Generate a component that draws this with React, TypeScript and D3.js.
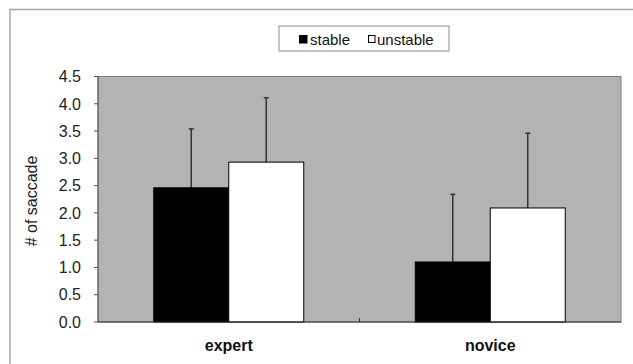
import React from "react";
import * as d3 from "d3";

// values
const groups = ["expert", "novice"];
const seriesNames = ["stable", "unstable"];
const stableMeans = [2.46, 1.1];
const unstableMeans = [2.93, 2.09];
const stableErr = [1.08, 1.24];
const unstableErr = [1.18, 1.37];
const yTicks = [0, 0.5, 1, 1.5, 2, 2.5, 3, 3.5, 4, 4.5];

const W = 633;
const H = 364;
const plot = { left: 98, right: 621, top: 76.5, bottom: 322 };
const font = "Arial, 'Liberation Sans', sans-serif";

const App = () => {
  const x = d3
    .scaleBand()
    .domain(groups)
    .range([plot.left, plot.right])
    .paddingInner(0.4264)
    .paddingOuter(0.2132);
  const xs = d3.scaleBand().domain(seriesNames).range([0, x.bandwidth()]);
  const y = d3.scaleLinear().domain([0, 4.5]).range([plot.bottom, plot.top]);
  const fmt = d3.format(".1f");

  const rows = groups.flatMap((g, i) => [
    { g, s: "stable", v: stableMeans[i], e: stableErr[i], fill: "#000" },
    { g, s: "unstable", v: unstableMeans[i], e: unstableErr[i], fill: "#fff" },
  ]);

  // boundary between the two categories
  const mid = (x(groups[0]) + x.bandwidth() + x(groups[1])) / 2;

  return (
    <svg
      width={W}
      height={H}
      style={{ position: "absolute", left: 0, top: 0, background: "#fff" }}
      fontFamily={font}
    >
      <rect x={10} y={9.5} width={700} height={500} fill="#fff" stroke="#a6a6a6" strokeWidth={1.5} />

      <rect
        x={plot.left}
        y={plot.top}
        width={plot.right - plot.left}
        height={plot.bottom - plot.top}
        fill="#b3b3b3"
        stroke="#7f7f7f"
        strokeWidth={1}
      />

      {rows.map((d) => {
        const bx = x(d.g) + xs(d.s);
        const cx = bx + xs.bandwidth() / 2;
        return (
          <g key={d.g + d.s}>
            <line x1={cx} x2={cx} y1={y(d.v)} y2={y(d.v + d.e)} stroke="#333" strokeWidth={1.5} />
            <line x1={cx - 2.5} x2={cx + 2.5} y1={y(d.v + d.e)} y2={y(d.v + d.e)} stroke="#333" strokeWidth={1.5} />
            <rect
              x={bx}
              y={y(d.v)}
              width={xs.bandwidth()}
              height={y(0) - y(d.v)}
              fill={d.fill}
              stroke="#000"
              strokeWidth={1}
            />
          </g>
        );
      })}

      {/* axes */}
      <line x1={plot.left} x2={plot.left} y1={plot.top} y2={plot.bottom} stroke="#555" />
      <line x1={plot.left} x2={plot.right} y1={y(0)} y2={y(0)} stroke="#333" strokeWidth={1.2} />
      <line x1={mid} x2={mid} y1={y(0)} y2={y(0) - 4} stroke="#333" />

      {yTicks.map((t) => (
        <g key={t}>
          <line x1={plot.left - 4} x2={plot.left} y1={y(t)} y2={y(t)} stroke="#555" />
          <text x={81} y={y(t)} dy="0.36em" textAnchor="end" fontSize={16} fill="#222">
            {fmt(t)}
          </text>
        </g>
      ))}

      {groups.map((g) => (
        <text
          key={g}
          x={x(g) + x.bandwidth() / 2}
          y={350.5}
          textAnchor="middle"
          fontSize={16}
          fontWeight="bold"
          fill="#111"
        >
          {g}
        </text>
      ))}

      <text
        transform="translate(37,201) rotate(-90)"
        textAnchor="middle"
        fontSize={16}
        fill="#222"
      >
        # of saccade
      </text>

      {/* legend */}
      <rect x={279} y={26} width={170} height={25} fill="#fff" stroke="#8c8c8c" strokeWidth={1} />
      <rect x={299.5} y={35.5} width={7.5} height={7.5} fill="#000" stroke="#000" />
      <text x={310} y={45} fontSize={15} fill="#111">
        {seriesNames[0]}
      </text>
      <rect x={368.5} y={35.5} width={6.5} height={7} fill="#fff" stroke="#000" />
      <text x={377} y={45} fontSize={15} fill="#111">
        {seriesNames[1]}
      </text>
    </svg>
  );
};

export default App;
